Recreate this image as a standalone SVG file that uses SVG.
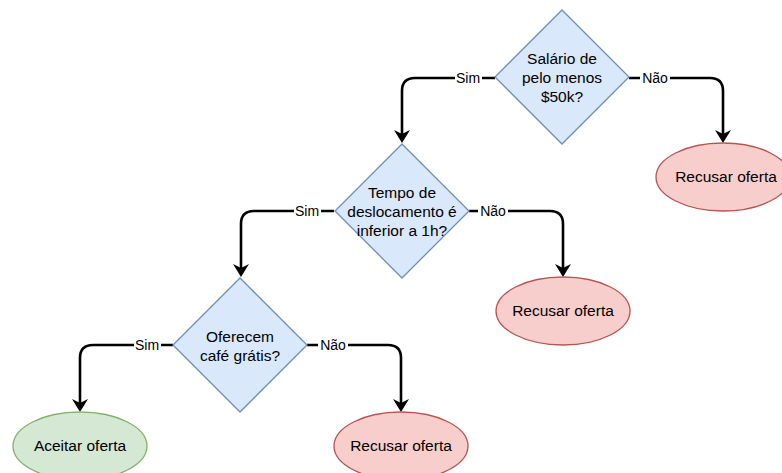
<svg xmlns="http://www.w3.org/2000/svg" width="782" height="473" viewBox="0 0 782 473">
  <style>
    .dec { fill: #dae8fc; stroke: #6c8ebf; stroke-width: 1.3; }
    .no { fill: #f8cecc; stroke: #b85450; stroke-width: 1.3; }
    .yes { fill: #d5e8d4; stroke: #82b366; stroke-width: 1.3; }
    .t { font-family: "Liberation Sans", Arial, sans-serif; font-size: 15.5px; fill: #000; text-anchor: middle; }
    .edge { fill: none; stroke: #000; stroke-width: 2.6; marker-end: url(#arrow); }
    .lbl { font-family: "Liberation Sans", Arial, sans-serif; font-size: 14px; fill: #000; text-anchor: middle; }
    .lblbg { fill: #fff; }
  </style>
  <defs>
    <marker id="arrow" viewBox="-5 -9 15 18" refX="0" refY="0" markerWidth="15" markerHeight="18" markerUnits="userSpaceOnUse" orient="auto">
      <path d="M9,0 L-4,-8 L0,0 L-4,8 Z" fill="#000"/>
    </marker>
  </defs>
  <rect width="782" height="473" fill="#fff"/>

  <g id="connectors">
    <path class="edge" d="M495,78 H415 Q402,78 402,91 V134"/>
    <path class="edge" d="M629,78 H710 Q723,78 723,91 V134"/>
    <path class="edge" d="M334,211 H254 Q241,211 241,224 V268"/>
    <path class="edge" d="M469,211 H550 Q563,211 563,224 V268"/>
    <path class="edge" d="M173,345 H93 Q80,345 80,358 V403"/>
    <path class="edge" d="M307,345 H388 Q401,345 401,358 V403"/>
    <g id="edge-labels">
      <rect class="lblbg" x="455" y="70" width="27" height="16"/>
      <text class="lbl" x="468" y="83">Sim</text>
      <rect class="lblbg" x="640" y="70" width="30" height="16"/>
      <text class="lbl" x="655" y="83">Não</text>
      <rect class="lblbg" x="294" y="203" width="27" height="16"/>
      <text class="lbl" x="307" y="216">Sim</text>
      <rect class="lblbg" x="478" y="203" width="30" height="16"/>
      <text class="lbl" x="493" y="216">Não</text>
      <rect class="lblbg" x="134" y="337" width="27" height="16"/>
      <text class="lbl" x="147" y="350">Sim</text>
      <rect class="lblbg" x="318" y="337" width="30" height="16"/>
      <text class="lbl" x="333" y="350">Não</text>
    </g>
  </g>

  <g id="salario">
    <polygon class="dec" points="562,10 629,77 562,144 495,77"/>
    <text class="t" x="562" y="64">Salário de</text>
    <text class="t" x="562" y="83">pelo menos</text>
    <text class="t" x="562" y="102">$50k?</text>
  </g>
  <g id="recusar1">
    <ellipse class="no" cx="723" cy="177" rx="67" ry="34"/>
    <text class="t" x="726" y="182">Recusar oferta</text>
  </g>

  <g id="deslocamento">
    <polygon class="dec" points="402,144 469,211 402,278 335,211"/>
    <text class="t" x="402" y="198">Tempo de</text>
    <text class="t" x="402" y="217">deslocamento é</text>
    <text class="t" x="402" y="236">inferior a 1h?</text>
  </g>
  <g id="recusar2">
    <ellipse class="no" cx="563" cy="311" rx="67" ry="34"/>
    <text class="t" x="563" y="316">Recusar oferta</text>
  </g>

  <g id="cafe">
    <polygon class="dec" points="240,278 307,345 240,412 173,345"/>
    <text class="t" x="240" y="342">Oferecem</text>
    <text class="t" x="240" y="361">café grátis?</text>
  </g>
  <g id="aceitar">
    <ellipse class="yes" cx="80" cy="446" rx="67" ry="34"/>
    <text class="t" x="80" y="451">Aceitar oferta</text>
  </g>
  <g id="recusar3">
    <ellipse class="no" cx="401" cy="446" rx="67" ry="34"/>
    <text class="t" x="401" y="451">Recusar oferta</text>
  </g>
</svg>
